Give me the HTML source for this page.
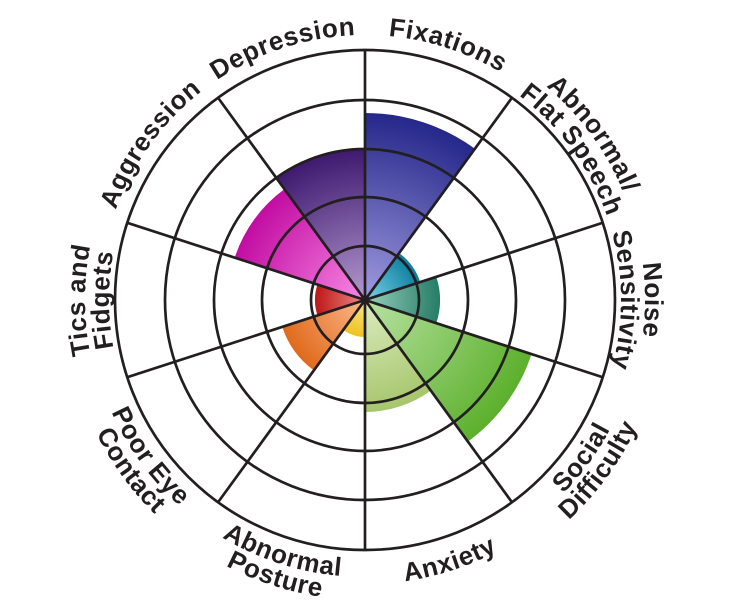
<!DOCTYPE html>
<html><head><meta charset="utf-8"><style>
html,body{margin:0;padding:0;background:#fff;}
svg{display:block;}
text{font-family:"Liberation Sans",sans-serif;font-weight:bold;font-size:26px;letter-spacing:0.6px;fill:#231f20;}
</style></head><body>
<svg width="732" height="600" viewBox="0 0 732 600" xmlns="http://www.w3.org/2000/svg">
<defs>
<radialGradient id="g0" gradientUnits="userSpaceOnUse" cx="365" cy="300" r="187"><stop offset="0" stop-color="#a09ce0"/><stop offset="1" stop-color="#25278a"/></radialGradient>
<radialGradient id="g1" gradientUnits="userSpaceOnUse" cx="365" cy="300" r="58"><stop offset="0" stop-color="#7ad4ea"/><stop offset="1" stop-color="#0c7d9e"/></radialGradient>
<radialGradient id="g2" gradientUnits="userSpaceOnUse" cx="365" cy="300" r="75"><stop offset="0" stop-color="#98cfc0"/><stop offset="1" stop-color="#267d66"/></radialGradient>
<radialGradient id="g3" gradientUnits="userSpaceOnUse" cx="365" cy="300" r="175"><stop offset="0" stop-color="#b8e2a2"/><stop offset="1" stop-color="#5cb02c"/></radialGradient>
<radialGradient id="g4" gradientUnits="userSpaceOnUse" cx="365" cy="300" r="112"><stop offset="0" stop-color="#dcecc0"/><stop offset="1" stop-color="#a6c66c"/></radialGradient>
<radialGradient id="g5" gradientUnits="userSpaceOnUse" cx="365" cy="300" r="37"><stop offset="0" stop-color="#fae88a"/><stop offset="1" stop-color="#eec21e"/></radialGradient>
<radialGradient id="g6" gradientUnits="userSpaceOnUse" cx="365" cy="300" r="87"><stop offset="0" stop-color="#fbb88a"/><stop offset="1" stop-color="#e06a1c"/></radialGradient>
<radialGradient id="g7" gradientUnits="userSpaceOnUse" cx="365" cy="300" r="50"><stop offset="0" stop-color="#ee8a8a"/><stop offset="1" stop-color="#be1616"/></radialGradient>
<radialGradient id="g8" gradientUnits="userSpaceOnUse" cx="365" cy="300" r="137"><stop offset="0" stop-color="#f888e4"/><stop offset="1" stop-color="#c20ca2"/></radialGradient>
<radialGradient id="g9" gradientUnits="userSpaceOnUse" cx="365" cy="300" r="150"><stop offset="0" stop-color="#b49ad0"/><stop offset="1" stop-color="#3f1a70"/></radialGradient>
<path id="cw256" d="M365,556 A256,256 0 1 1 365,44 A256,256 0 1 1 365,556"/>
<path id="cw265" d="M365,565 A265,265 0 1 1 365,35 A265,265 0 1 1 365,565"/>
<path id="cw280" d="M365,580 A280,280 0 1 1 365,20 A280,280 0 1 1 365,580"/>
<path id="ccw277" d="M365,23 A277,277 0 1 0 365,577 A277,277 0 1 0 365,23"/>
<path id="ccw284" d="M365,16 A284,284 0 1 0 365,584 A284,284 0 1 0 365,16"/>
<path id="ccw300" d="M365,0 A300,300 0 1 0 365,600 A300,300 0 1 0 365,0"/>
</defs>
<g id="sectors"></g>
<g fill="none" stroke="#231f20" stroke-width="2.7">
<circle cx="365" cy="300" r="54"/>
<circle cx="365" cy="300" r="103"/>
<circle cx="365" cy="300" r="151"/>
<circle cx="365" cy="300" r="200"/>
<circle cx="365" cy="300" r="250"/>
<g id="spokes"></g>
</g>
<circle cx="365" cy="300" r="4" fill="#231f20"/>
<text><textPath href="#cw265" startOffset="55%" text-anchor="middle">Fixations</textPath></text>
<text><textPath href="#cw265" startOffset="45%" text-anchor="middle">Depression</textPath></text>
<text><textPath href="#cw265" startOffset="35%" text-anchor="middle">Aggression</textPath></text>
<text><textPath href="#cw280" startOffset="65%" text-anchor="middle">Abnormal/</textPath></text>
<text><textPath href="#cw256" startOffset="65%" text-anchor="middle">Flat Speech</textPath></text>
<text><textPath href="#cw280" startOffset="75%" text-anchor="middle">Noise</textPath></text>
<text><textPath href="#cw256" startOffset="75%" text-anchor="middle">Sensitivity</textPath></text>
<text><textPath href="#cw280" startOffset="25%" text-anchor="middle">Tics and</textPath></text>
<text><textPath href="#cw256" startOffset="25%" text-anchor="middle">Fidgets</textPath></text>
<text><textPath href="#ccw284" startOffset="55%" text-anchor="middle">Anxiety</textPath></text>
<text><textPath href="#ccw277" startOffset="65%" text-anchor="middle">Social</textPath></text>
<text><textPath href="#ccw300" startOffset="65%" text-anchor="middle">Difficulty</textPath></text>
<text><textPath href="#ccw277" startOffset="45%" text-anchor="middle">Abnormal</textPath></text>
<text><textPath href="#ccw300" startOffset="45%" text-anchor="middle">Posture</textPath></text>
<text><textPath href="#ccw277" startOffset="35%" text-anchor="middle">Poor Eye</textPath></text>
<text><textPath href="#ccw300" startOffset="35%" text-anchor="middle">Contact</textPath></text>
<script>
(function(){
var cx=365,cy=300,ns="http://www.w3.org/2000/svg";
var radii=[187,58,75,175,112,37,87,50,137,150];
function pt(a,r){var t=a*Math.PI/180;return [cx+r*Math.sin(t),cy-r*Math.cos(t)];}
var sg=document.getElementById("sectors");
for(var i=0;i<10;i++){var r=radii[i],a=pt(i*36,r),b=pt(i*36+36,r);
var p=document.createElementNS(ns,"path");
p.setAttribute("d","M"+cx+","+cy+" L"+a[0]+","+a[1]+" A"+r+","+r+" 0 0 1 "+b[0]+","+b[1]+" Z");
p.setAttribute("fill","url(#g"+i+")");sg.appendChild(p);}
var sp=document.getElementById("spokes");
for(var j=0;j<10;j++){var e=pt(j*36,250);var l=document.createElementNS(ns,"line");
l.setAttribute("x1",cx);l.setAttribute("y1",cy);l.setAttribute("x2",e[0]);l.setAttribute("y2",e[1]);sp.appendChild(l);}
})();
</script>
</svg>
</body></html>
